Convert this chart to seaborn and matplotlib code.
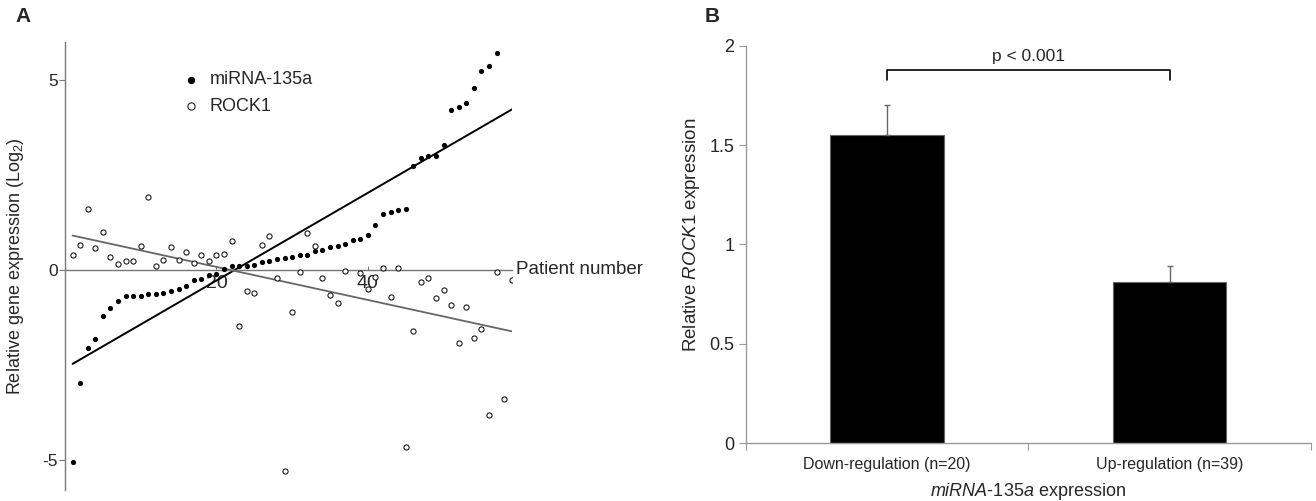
import numpy as np
import pandas as pd
import matplotlib
matplotlib.use("Agg")
import matplotlib.pyplot as plt
import seaborn as sns

sns.set_style("white")
plt.rcParams['font.family'] = ['Liberation Sans', 'DejaVu Sans']
plt.rcParams['mathtext.fontset'] = 'custom'
plt.rcParams['mathtext.rm'] = 'Liberation Sans'
plt.rcParams['mathtext.it'] = 'Liberation Sans:italic'

# Panel A data: relative expression (log2) per patient
patients = np.arange(1, 60)
mirna = [-5.05, -2.98, -2.06, -1.83, -1.22, -1.01, -0.83, -0.69, -0.68, -0.68,
         -0.65, -0.63, -0.61, -0.55, -0.50, -0.42, -0.27, -0.24, -0.15, -0.12,
         0.03, 0.09, 0.10, 0.11, 0.13, 0.20, 0.23, 0.29, 0.30, 0.34,
         0.39, 0.40, 0.49, 0.52, 0.60, 0.62, 0.67, 0.77, 0.82, 0.91,
         1.17, 1.47, 1.51, 1.56, 1.59, 2.73, 2.94, 2.98, 2.99, 3.29,
         4.19, 4.27, 4.39, 4.77, 5.23, 5.35, 5.71, np.nan, np.nan]
rock1 = [0.40, 0.64, 1.60, 0.57, 0.99, 0.33, 0.15, 0.22, 0.24, 0.62,
         1.91, 0.10, 0.27, 0.61, 0.27, 0.46, 0.19, 0.39, 0.24, 0.39,
         0.41, 0.75, -1.48, -0.56, -0.62, 0.66, 0.89, -0.22, -5.28, -1.11,
         -0.07, 0.98, 0.62, -0.22, -0.67, -0.88, -0.03, np.nan, -0.09, -0.51,
         -0.18, 0.05, -0.72, 0.05, -4.67, -1.62, -0.31, -0.22, -0.75, -0.54,
         -0.92, -1.93, -0.98, -1.80, -1.56, -3.82, -0.07, -3.39, -0.26]

# Panel B data
groups = ["Down-regulation (n=20)", "Up-regulation (n=39)"]
rock1_mean = [1.55, 0.81]
rock1_err = [0.15, 0.08]

df = pd.DataFrame({"patient": patients, "miRNA-135a": mirna, "ROCK1": rock1})

fig = plt.figure(figsize=(13.16, 5.01), dpi=100)
axA = fig.add_axes([0.0494, 0.022, 0.340, 0.895])
axB = fig.add_axes([0.5666, 0.1152, 0.4296, 0.7936])

# ---- Panel A ----
sns.scatterplot(data=df, x="patient", y="miRNA-135a", ax=axA, color="black",
                s=14, edgecolor="black", linewidth=0, label="miRNA-135a", zorder=3)
sns.scatterplot(data=df, x="patient", y="ROCK1", ax=axA, facecolor="white",
                s=14, edgecolor="black", linewidth=0.7, label="ROCK1", zorder=3)

# linear trend lines
for col, c, lw in [("miRNA-135a", "black", 1.4), ("ROCK1", "#666666", 1.3)]:
    sub = df.dropna(subset=[col])
    k, b = np.polyfit(sub["patient"], sub[col], 1)
    axA.plot(patients, k * patients + b, color=c, lw=lw, zorder=2)

axA.set_xlim(0, 59.1)
axA.set_ylim(-5.79, 6.0)
axA.spines['top'].set_visible(False)
axA.spines['right'].set_visible(False)
axA.spines['bottom'].set_position(('data', 0))
for s in ['left', 'bottom']:
    axA.spines[s].set_color('#777777')
    axA.spines[s].set_linewidth(1.0)
axA.set_yticks([-5, 0, 5])
axA.set_yticklabels(["-5", "0", "5"])
axA.set_xticks([20, 40])
axA.tick_params(axis='y', direction='out', length=4, width=0.8, color='#777777',
                labelsize=12.5, pad=1, left=True)
axA.tick_params(axis='x', direction='in', length=3, width=0.8, color='#777777',
                labelsize=14, pad=4, bottom=True)
axA.set_xlabel("")
axA.set_ylabel("Relative gene expression (Log$_2$)", fontsize=13, labelpad=12)
axA.annotate("Patient number", xy=(59.6, 0), xycoords='data', fontsize=13.5,
             va='center', ha='left', annotation_clip=False)
axA.legend(loc='upper left', bbox_to_anchor=(0.205, 0.97), frameon=False,
           fontsize=13, handletextpad=0.05, markerscale=1.4, labelspacing=0.55)

# ---- Panel B ----
bdf = pd.DataFrame({"group": groups, "value": rock1_mean})
sns.barplot(data=bdf, x="group", y="value", ax=axB, color="black",
            edgecolor="#666666", linewidth=0.8, width=0.4, errorbar=None,
            saturation=1)
axB.errorbar(range(len(groups)), rock1_mean, yerr=[[0] * len(groups), rock1_err],
             fmt='none', ecolor='#666666', elinewidth=1.0, capsize=2.5,
             capthick=1.0)
axB.set_xlim(-0.5, 1.5)
axB.set_ylim(0, 2)
axB.set_yticks([0, 0.5, 1, 1.5, 2])
axB.set_yticklabels(["0", "0.5", "1", "1.5", "2"])
axB.set_xticks([-0.5, 0.5, 1.5], minor=True)
axB.spines['top'].set_visible(False)
axB.spines['right'].set_visible(False)
for s in ['left', 'bottom']:
    axB.spines[s].set_color('#999999')
    axB.spines[s].set_linewidth(1.0)
axB.tick_params(axis='y', direction='out', length=5, width=0.8, color='#999999',
                labelsize=13, pad=3, left=True)
axB.tick_params(axis='x', which='major', length=0, labelsize=11.5, pad=10)
axB.tick_params(axis='x', which='minor', direction='out', length=5, width=0.8,
                color='#999999', bottom=True)
axB.set_ylabel("Relative $\\it{ROCK1}$ expression", fontsize=13.5, labelpad=8)
axB.yaxis.set_label_coords(-0.078, 0.525)
axB.set_xlabel("$\\it{miRNA}$-$\\it{135a}$ expression", fontsize=13, labelpad=6)

# significance bracket
yb, yt = 1.825, 1.878
axB.plot([0, 0, 1, 1], [yb, yt, yt, yb], color='black', lw=1.2, clip_on=False)
axB.text(0.5, yt + 0.03, "p < 0.001", ha='center', va='bottom', fontsize=12.5)

# panel letters
fig.text(15 / 1316, 1 - 17 / 501, "A", fontsize=15, fontweight='bold', va='center')
fig.text(705 / 1316, 1 - 17 / 501, "B", fontsize=15, fontweight='bold', va='center')

fig.savefig("out.png", dpi=100)
